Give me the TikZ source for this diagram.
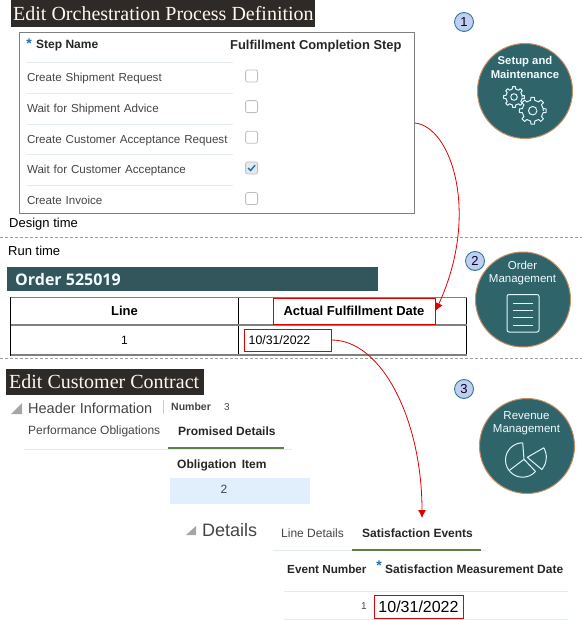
\documentclass[tikz,border=0pt]{standalone}
\usepackage{fontspec}
\setmainfont{Liberation Sans}
\newfontfamily\titlefont{Liberation Serif}
\newfontfamily\orderfont{Open Sans}
\usetikzlibrary{arrows.meta, positioning, calc}
\definecolor{titlebar}{HTML}{2E2A27}
\definecolor{orderbar}{HTML}{33555C}
\definecolor{disc}{HTML}{2F646B}
\definecolor{discdark}{HTML}{16383D}
\definecolor{discedge}{HTML}{C88F66}
\definecolor{uitext}{HTML}{444444}
\definecolor{uirule}{HTML}{E4EBF0}
\definecolor{tabgreen}{HTML}{5E7F48}
\definecolor{starblue}{HTML}{1F6FB5}
\definecolor{bandblue}{HTML}{E1EFFD}
\definecolor{redmark}{HTML}{E00000}
\definecolor{badgelight}{HTML}{C0CFF0}
\definecolor{badgemid}{HTML}{7C9FD0}
\definecolor{badgedark}{HTML}{357896}
\pgfdeclareradialshading{discshade}{\pgfpoint{-2bp}{9bp}}{
  color(0bp)=(disc); color(41bp)=(disc); color(50bp)=(discdark); color(60bp)=(discdark)}
\pgfdeclareradialshading{badgeshade}{\pgfpoint{-6bp}{12bp}}{
  color(0bp)=(badgelight); color(25bp)=(badgelight); color(48bp)=(badgemid); color(68bp)=(badgedark)}
\newcommand{\fs}[1]{\fontsize{#1}{#1}\selectfont}

\begin{document}
\begin{tikzpicture}[
      x=1pt, y=-1pt,
      titlenode/.style={anchor=west, inner sep=0pt, text=white!93!orange, font=\titlefont\fs{20}},
      titleback/.style={fill=titlebar, draw=none},
      uilabel/.style={anchor=west, inner sep=0pt, text=uitext, font=\fs{12}},
      uibold/.style={anchor=west, inner sep=0pt, text=black!85, font=\bfseries\fs{12}},
      plainlabel/.style={anchor=west, inner sep=0pt, text=black, font=\fs{13}},
      starmark/.style={inner sep=0pt, text=starblue, font=\bfseries\fs{14}},
      steprow/.style={uilabel, anchor=center, align=left, font=\fs{11.6}, text width=206pt, text height=9pt, text depth=1pt, minimum height=30.25pt},
      chkbox/.style={rectangle, rounded corners=2pt, draw=black!25, fill=white, line width=0.8pt, minimum size=12pt, inner sep=0pt, yshift=2pt},
      rowrule/.style={draw=uirule, line width=0.8pt},
      seprule/.style={draw=black!38, line width=0.7pt, dash pattern=on 3.2pt off 1.8pt},
      cell/.style={inner sep=0pt, minimum height=27pt, font=\fs{12}},
      markbox/.style={draw=redmark, line width=1pt, inner sep=0pt},
      disccircle/.style={circle, draw=discedge, line width=1pt, shading=discshade, minimum size=95pt, inner sep=0pt},
      disclabel/.style={inner sep=0pt, text=white!95!cyan, align=center, font=\fs{11.5}},
      badge/.style={circle, draw=badgedark, line width=0.9pt, shading=badgeshade, minimum size=19pt, inner sep=0pt, text=black!85!blue, font=\fs{13}},
      iconline/.style={draw=white!88!cyan, line width=1pt, line join=round},
      tabline/.style={draw=tabgreen, line width=2.6pt},
      arr/.style={-{Latex[length=8pt, width=8pt]}, draw=redmark, line width=0.8pt},
      gear/.pic={
        \draw[iconline] (0:#1) \foreach \a in {0,45,...,315} {
          -- ({\a-11}:#1) -- ({\a-8}:#1*1.27) -- ({\a+8}:#1*1.27) -- ({\a+11}:#1) -- ({\a+34}:#1)
        } -- cycle;
        \draw[iconline] (0,0) circle (#1*0.4);
      }
    ]
      \useasboundingbox (0,0) rectangle (582,620);

      % design time
      \fill[titleback] (11,0) rectangle (315,27);
      \node[titlenode] (orchtitle) at (13,13.5) {Edit Orchestration Process Definition};
      \node[draw=black!50, line width=0.9pt, minimum width=395pt, minimum height=181pt, inner sep=0pt] (panel) at (217,123) {};

      \node[starmark] (stepstar) at (29,44) {*};
      \node[uibold] (stepname) at (36,45.5) {Step Name};
      \node[uibold, font=\bfseries\fs{12.9}] (fullname) at (230,46) {Fulfillment Completion Step};

      \node[steprow] (rowa) at (130,78) {Create Shipment Request};
      \node[steprow, below=0pt of rowa] (rowb) {Wait for Shipment Advice};
      \node[steprow, below=0pt of rowb] (rowc) {Create Customer Acceptance Request};
      \node[steprow, below=0pt of rowc] (rowd) {Wait for Customer Acceptance};
      \node[steprow, below=0pt of rowd] (rowe) {Create Invoice};

      \node[chkbox, right=12pt of rowa] (chka) {};
      \node[chkbox, right=12pt of rowb] (chkb) {};
      \node[chkbox, right=12pt of rowc] (chkc) {};
      \node[chkbox, right=12pt of rowd, fill=uirule] (chkd) {};
      \node[chkbox, right=12pt of rowe] (chke) {};
      \draw[draw=starblue, line width=1.4pt] ([shift={(-3.5,0)}]chkd.center) -- ([shift={(-1,2.6)}]chkd.center) -- ([shift={(3.5,-2.8)}]chkd.center);

      \draw[rowrule, line width=1pt] (26,63) -- (233,63);
      \draw[rowrule] (rowa.south west) -- (rowa.south east);
      \draw[rowrule] (rowb.south west) -- (rowb.south east);
      \draw[rowrule] (rowc.south west) -- (rowc.south east);
      \draw[rowrule] (rowd.south west) -- (rowd.south east);

      \node[plainlabel] (designtime) at (9,224.5) {Design time};
      \draw[seprule] (0,237) -- (582,237);
      \node[plainlabel] (runtime) at (8,250.5) {Run time};

      % run time
      \fill[orderbar] (7,267) rectangle (378,291);
      \node[anchor=west, inner sep=0pt, text=white!95!cyan, font=\orderfont\bfseries\fs{16}] (ordertitle) at (15,279) {Order 525019};

      \node[cell, minimum width=227pt, font=\bfseries\fs{13}] (linehead) at (124.5,311) {Line};
      \node[cell, minimum width=228pt, right=0pt of linehead] (datehead) {};
      \node[cell, minimum height=30pt, minimum width=227pt, below=0pt of linehead] (linecell) {1};
      \node[cell, minimum height=30pt, minimum width=228pt, below=0pt of datehead] (datecell) {};
      \draw[black, line width=0.9pt] (linehead.north west) rectangle (datecell.south east);
      \draw[black, line width=0.9pt] (linehead.north east) -- (linecell.south east);
      \draw[black!50, line width=1.6pt] (linehead.north west) -- (datehead.north east);
      \draw[black!50, line width=1.6pt] (linehead.south west) -- (datehead.south east);
      \draw[black!50, line width=1.6pt] (linecell.south west) -- (datecell.south east);

      \node[markbox, minimum width=162pt, minimum height=26pt, font=\bfseries\fs{13}] (datemark) at (354,311) {Actual Fulfillment Date};
      \node[markbox, minimum width=87pt, minimum height=22pt, font=\fs{12.3}] (valuemark) at (287.5,340) {\hspace*{-16pt}10/31/2022};
      \draw[seprule] (0,358) -- (582,358);

      % contract
      \fill[titleback] (6,369) rectangle (204,395);
      \node[titlenode] (contracttitle) at (9,382) {Edit Customer Contract};

      \fill[black!35] (11,414) -- (22,414) -- (22,403) -- cycle;
      \node[uilabel, font=\fs{14.5}] (headerinfo) at (28,408) {Header Information};
      \draw[black!20, line width=0.8pt] (163,400) -- (163,414);
      \node[uibold, text=uitext, font=\bfseries\fs{10.5}] (numlabel) at (171,407) {Number};
      \node[uilabel, font=\fs{10}] (numvalue) at (224,407) {3};
      \node[uilabel] (perftab) at (28,431) {Performance Obligations};
      \node[uibold] (promisedtab) at (178,431) {Promised Details};
      \draw[rowrule, line width=1pt] (24,449) -- (292,449);
      \draw[tabline] (168,448) -- (284,448);
      \node[uibold] (obligation) at (177,465) {Obligation\hspace{2pt} Item};
      \fill[bandblue] (170,478) rectangle (310,504);
      \node[uilabel] (obvalue) at (220.5,489) {2};

      \fill[black!35] (186,535) -- (196,535) -- (196,526) -- cycle;
      \node[uilabel, font=\fs{18}] (details) at (202,530) {Details};
      \node[uilabel] (linetab) at (281,533) {Line Details};
      \node[uibold] (eventstab) at (362,533) {Satisfaction Events};
      \draw[rowrule] (273,550.5) -- (485,550.5);
      \draw[tabline] (352,550) -- (481,550);
      \node[uibold, font=\bfseries\fs{11.7}] (eventnum) at (287,569) {Event Number};
      \node[starmark] (satstar) at (379,566) {*};
      \node[uibold] (satdate) at (385,569) {Satisfaction Measurement Date};
      \draw[rowrule, line width=1pt] (284,591) -- (568,591);
      \node[uilabel, font=\fs{10}] (eventone) at (361,606) {1};
      \node[markbox, minimum width=89pt, minimum height=23pt, font=\fs{16}] (satmark) at (418.5,606.5) {10/31/2022};
      \draw[rowrule] (284,619) -- (568,619);

      % applications
      \node[badge] (badgea) at (464,22) {1};
      \node[disccircle] (setup) at (525,91) {};
      \node[disclabel, font=\bfseries\fs{11.3}] (setuplabel) at (525,67.5) {Setup and\\[1.8pt]Maintenance};
      \pic at (514,97) {gear=8.2};
      \pic at (532.7,110.7) {gear=10.6};

      \node[disccircle] (order) at (523,299.5) {};
      \node[badge] (badgeb) at (475,261) {2};
      \node[disclabel] (orderlabel) at (522.5,273.5) {Order\\[1.5pt]Management};
      \draw[iconline, rounded corners=2pt] (507,294.5) rectangle (539,332);
      \draw[iconline] (513,303) -- (533,303);
      \draw[iconline] (513,310) -- (533,310);
      \draw[iconline] (513,317) -- (533,317);
      \draw[iconline] (513,325) -- (533,325);

      \node[badge] (badgec) at (464,389) {3};
      \node[disccircle] (revenue) at (527,446) {};
      \node[disclabel] (revenuelabel) at (526.5,423.5) {Revenue\\[1.5pt]Management};
      \draw[iconline] (522.7,442.8) -- (524,459.3) -- (509.1,470.6);
      \draw[iconline] (524,459.3) -- (535.5,471.5);
      \draw[iconline] (522.7,442.8) arc (-90:-318:17.2);
      \draw[iconline] (527.3,457.3) -- ++(-30:19) arc (-30:40:19) -- cycle;

      % links
      \coordinate (eventstip) at (422,518);
      \draw[arr] (panel.east) .. controls (452,127) and (480,215) .. (datemark.east);
      \draw[arr] (valuemark.east) .. controls (382,340) and (422,420) .. (eventstip);
    \end{tikzpicture}
\end{document}
